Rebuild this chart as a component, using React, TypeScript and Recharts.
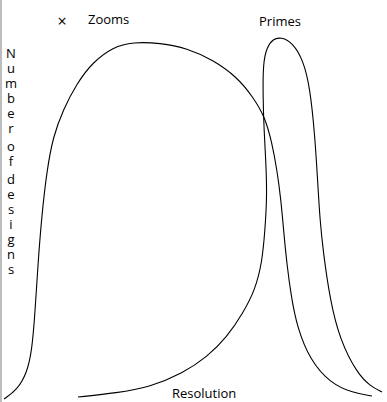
import { LineChart, Line, XAxis, YAxis } from "recharts";

// values: resolution (x) vs number of designs (y), arbitrary units
const zoomsX = [0, 3.25, 5.75, 7, 7.75, 8.5, 9.5, 10.75, 12.25, 14.75, 18.25, 22.25, 27.25, 32.25, 39, 45.75, 52.25, 58.25, 62.25, 65.25, 67, 68.25, 69.25, 70, 70.75, 71.75, 73.25, 76.5, 81.5, 87.25, 92];
const zoomsY = [0.25, 2.5, 6.75, 12.5, 21.75, 34.25, 46.75, 57.5, 65.75, 72.5, 79.25, 84.5, 88.25, 89.5, 89.25, 88, 85, 80.75, 75.75, 70.75, 64.25, 57.5, 50, 41.25, 33.75, 26.25, 18.25, 10, 4.25, 1.75, 1];

const primesX = [18.5, 28.25, 36.5, 44.75, 50.75, 55.75, 59.75, 62.75, 64.5, 65.25, 65.75, 65.5, 65, 64.75, 64.75, 65.75, 67.25, 69.25, 72.25, 74.75, 76.5, 77.75, 78.5, 79, 79.75, 81.5, 84, 88.25, 91.5, 94.5];
const primesY = [0.75, 1.75, 3.25, 6.75, 10.75, 15.75, 21.75, 27.5, 34.25, 42.5, 50.75, 59.25, 67.5, 75.75, 84.25, 88.25, 90.25, 90.75, 89.25, 85, 78.25, 65.75, 53.25, 45, 37.5, 25, 15, 6.75, 3.5, 2];

const yLabel = "Number of designs";

const zooms = zoomsX.map((x, i) => ({ x, y: zoomsY[i] }));
const primes = primesX.map((x, i) => ({ x, y: primesY[i] }));

const font = "'Open Sans', sans-serif";

function StackedLabel() {
  // letters stacked top to bottom, a space only leaves a small gap
  const spans: JSX.Element[] = [];
  let gap = 0;
  let first = true;
  for (let i = 0; i < yLabel.length; i++) {
    const ch = yLabel[i];
    if (ch === " ") {
      gap += 3;
      continue;
    }
    spans.push(
      <tspan key={i} x={11} dy={first ? 0 : 15 + gap}>
        {ch}
      </tspan>
    );
    first = false;
    gap = 0;
  }
  return (
    <text x={11} y={58} textAnchor="middle" fontSize={13} fontFamily={font} fill="#000">
      {spans}
    </text>
  );
}

export default function App() {
  return (
    <div style={{ position: "absolute", left: 0, top: 0, width: 387, height: 402, background: "#fff" }}>
      <div style={{ position: "absolute", left: 0, top: 0, width: 2, height: 402, background: "#bdbdbd" }} />
      <LineChart width={387} height={402} margin={{ top: 36, right: 3, bottom: 2, left: 4 }}>
        <XAxis type="number" dataKey="x" domain={[0, 95]} hide allowDataOverflow />
        <YAxis type="number" dataKey="y" domain={[0, 91]} hide allowDataOverflow />
        <Line data={zooms} dataKey="y" type="basis" stroke="#000" strokeWidth={1.1} dot={false} isAnimationActive={false} />
        <Line data={primes} dataKey="y" type="basis" stroke="#000" strokeWidth={1.1} dot={false} isAnimationActive={false} />
      </LineChart>
      <svg width={387} height={402} style={{ position: "absolute", left: 0, top: 0, pointerEvents: "none" }}>
        <text x={62} y={27} textAnchor="middle" fontSize={16} fontFamily={font} fill="#000">×</text>
        <text x={88} y={24} fontSize={13} fontFamily={font} fill="#000">Zooms</text>
        <text x={259} y={26} fontSize={13} fontFamily={font} fill="#000">Primes</text>
        <text x={172} y={398} fontSize={13} fontFamily={font} fill="#000">Resolution</text>
        <StackedLabel />
      </svg>
    </div>
  );
}
